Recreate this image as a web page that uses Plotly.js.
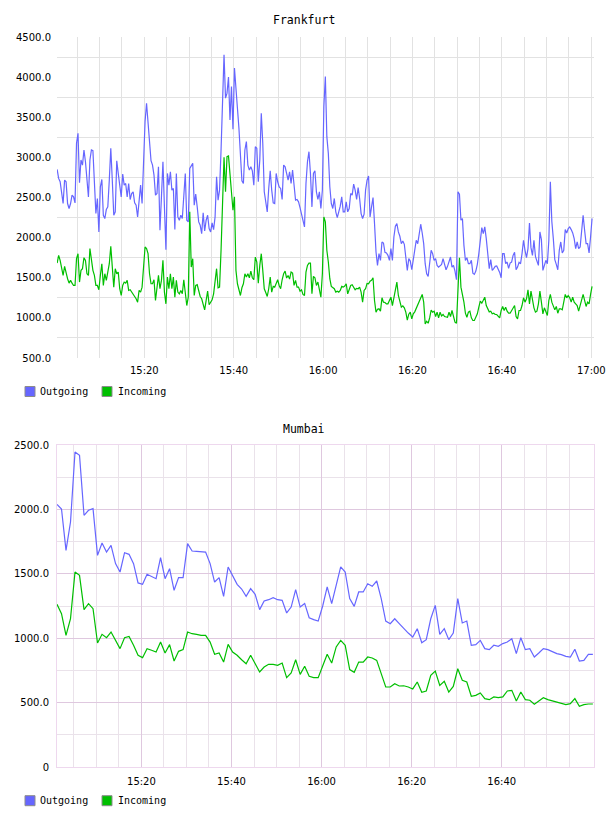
<!DOCTYPE html>
<html>
<head>
<meta charset="utf-8">
<script src="https://cdn.plot.ly/plotly-3.0.1.min.js"></script>
<style>html,body{margin:0;padding:0;background:#fff;}#chart{width:608px;height:816px;}</style>
</head>
<body>
<div id="chart"></div>
<script>
// ---------- data ----------
const seriesNames = ['Outgoing', 'Incoming'];
const seriesColors = ['#6666ff', '#00bf00'];
const baseDate = '2013-01-01 ';

// Frankfurt: samples every 20 s starting 15:00:30
const frankfurtStart = '15:00:30';
const frankfurtStepSec = 20;
const frankfurtOutgoing = [
 2850,2738,2696,2550,2425,2717,2696,2425,2363,2425,
 2529,2508,2433,3175,3300,2683,2967,2904,3092,2946,
 2717,2508,2967,3092,3083,2633,2300,2488,2071,2633,
 2725,2279,2238,2350,2383,2717,3113,2717,2279,2321,
 2958,2800,2633,2508,2792,2654,2675,2508,2675,2475,
 2550,2571,2433,2404,2258,2467,2654,2425,3008,3446,
 3675,3425,3092,2958,2904,2779,2529,2550,2883,2092,
 2508,2946,2383,1850,2800,2654,2821,2592,2613,2100,
 2800,2258,2217,2279,2238,2508,2800,2217,2196,2863,
 2904,2925,2404,2542,2383,2196,2154,2050,2308,2083,
 2217,2279,2113,2071,2183,2100,2258,2758,2467,2592,
 3092,3800,4279,3738,3800,4000,3467,3883,3350,4113,
 3904,3613,3363,3071,2708,2675,3092,3196,2904,2842,
 2883,2833,2654,3133,3113,2696,2967,3550,3175,2571,
 2467,2321,2613,2833,2592,2433,2425,2800,2696,2633,
 2613,2475,2904,2883,2800,2717,2821,2675,2842,2675,
 2467,2475,2446,2375,2300,2196,2133,2675,2946,3071,
 2800,2383,2800,2833,2571,2475,2571,2363,2592,3633,
 4008,3258,3050,2633,2425,2363,2488,2321,2250,2321,
 2392,2508,2321,2321,2446,2321,2363,2550,2529,2667,
 2592,2475,2625,2488,2300,2238,2292,2592,2717,2767,
 2258,2383,2500,2175,1821,1654,1800,1717,1946,1933,
 1817,1808,1779,1717,1863,1717,2008,2142,2175,2071,
 2017,1925,1958,1917,1738,1592,1738,1708,1600,1717,
 1883,1967,1925,2050,2167,2058,1925,1675,1550,1517,
 1696,1842,1800,1717,1738,1654,1633,1654,1667,1738,
 1675,1600,1642,1717,1758,1633,1654,1583,1475,2571,
 2542,2217,2238,1904,1717,1750,1675,1675,1717,1558,
 1542,1583,1667,1800,1988,2125,2050,2133,1988,1800,
 1613,1725,1592,1613,1642,1646,1608,1567,1500,1800,
 1800,1675,1696,1617,1683,1696,1779,1817,1600,1633,
 1692,1675,1800,1967,1842,1750,1863,2183,1875,1779,
 1967,1767,1708,1654,2071,1975,1592,1654,1717,1675,
 1967,2696,2200,1988,1725,1667,1600,1842,1946,1808,
 1842,2100,2058,2113,2133,2100,2058,1988,1863,1946,
 1863,1883,2071,2279,2092,1925,1925,1808,2008,2238
];
const frankfurtIncoming = [
 1683,1779,1717,1592,1529,1642,1550,1488,1433,1467,
 1433,1404,1404,1738,1800,1446,1592,1613,1750,1717,
 1550,1529,1863,1696,1592,1529,1404,1404,1350,1529,
 1675,1404,1550,1467,1550,1675,1892,1592,1383,1613,
 1550,1571,1363,1279,1404,1446,1433,1467,1342,1350,
 1321,1300,1267,1238,1196,1342,1321,1383,1633,1883,
 1863,1800,1550,1425,1425,1475,1217,1383,1529,1363,
 1467,1717,1321,1175,1508,1363,1550,1363,1508,1258,
 1467,1321,1300,1342,1300,1475,1342,1154,1258,2321,
 1633,1738,1279,1404,1413,1350,1267,1238,1167,1100,
 1217,1333,1163,1204,1225,1300,1446,1613,1375,1383,
 1842,2592,3000,2571,3008,3017,2800,2592,2342,2508,
 1592,1425,1350,1279,1375,1425,1550,1508,1550,1500,
 1583,1500,1475,1758,1696,1433,1654,1800,1592,1363,
 1317,1267,1363,1508,1321,1392,1383,1425,1475,1404,
 1363,1475,1550,1583,1496,1529,1483,1571,1558,1404,
 1467,1383,1383,1333,1350,1292,1279,1571,1654,1683,
 1683,1300,1517,1500,1404,1446,1321,1258,1550,2258,
 2196,1842,1696,1488,1392,1375,1363,1321,1333,1321,
 1342,1392,1383,1396,1425,1300,1363,1404,1413,1375,
 1350,1367,1363,1383,1321,1196,1342,1363,1429,1425,
 1458,1467,1500,1217,1071,1108,1113,1083,1250,1196,
 1192,1175,1175,1217,1258,1154,1258,1333,1446,1279,
 1196,1133,1150,1125,1071,971,1046,1071,988,1050,
 1075,1121,1163,1192,1238,1292,1196,925,958,933,
 1000,1096,1071,1083,1017,1071,1000,1071,1025,1042,
 1017,1017,1008,1071,1017,1092,1008,946,933,1383,
 1750,1383,1308,1196,1058,1008,1071,1083,1000,967,
 967,1000,1050,1133,1208,1183,1217,1258,1154,1113,
 1075,1083,1050,1058,1042,1042,1025,1000,1092,1142,
 1092,1133,1083,1058,1058,1092,1113,1154,1017,988,
 1092,1092,1154,1250,1196,1238,1350,1175,1333,1208,
 1125,1071,1083,1175,1333,1196,1050,1125,1071,1029,
 1217,1292,1196,1154,1100,1142,1058,1113,1113,1100,
 1217,1292,1250,1279,1250,1196,1258,1196,1175,1154,
 1083,1167,1238,1292,1217,1142,1196,1175,1292,1392
];

// Mumbai: samples every 60 s starting 15:01:15
const mumbaiStart = '15:01:15';
const mumbaiStepSec = 60;
const mumbaiOutgoing = [
 2039,2003,1682,1902,2446,2420,1954,1993,2006,1643,
 1739,1669,1721,1579,1514,1664,1651,1579,1429,1418,
 1496,1480,1462,1625,1462,1540,1372,1470,1470,1734,
 1677,1674,1669,1669,1579,1436,1470,1325,1553,1483,
 1418,1382,1325,1385,1341,1222,1289,1299,1315,1299,
 1294,1196,1242,1377,1242,1270,1159,1144,1133,1250,
 1398,1268,1410,1553,1514,1307,1247,1359,1359,1423,
 1403,1444,1307,1133,1113,1151,1113,1074,1040,1009,
 1074,965,989,1151,1255,1030,1074,989,1040,1307,
 1118,1133,945,950,983,919,911,945,937,958,
 970,996,880,1004,911,919,854,885,919,911,
 893,880,872,859,854,914,823,828,875,875
];
const mumbaiIncoming = [
 1263,1190,1022,1152,1514,1488,1222,1268,1229,963,
 1030,1004,1048,978,919,1004,1014,945,867,849,
 919,906,893,970,885,950,823,898,911,1048,
 1035,1030,1022,1022,970,875,885,815,952,893,
 867,833,802,867,807,738,776,797,797,789,
 807,694,730,833,719,782,704,694,694,782,
 875,807,932,983,945,756,735,815,815,854,
 846,828,725,621,621,647,629,631,621,606,
 660,580,590,712,745,634,665,582,626,763,
 673,660,549,556,575,531,523,544,538,544,
 590,595,512,582,523,518,487,512,538,523,
 512,500,492,484,492,531,471,484,489,489
];

// axis ticks
const frankfurtTimeTicks = ['15:20','15:40','16:00','16:20','16:40','17:00'];
const mumbaiTimeTicks = ['15:20','15:40','16:00','16:20','16:40'];
const frankfurtValueTicks = [500,1000,1500,2000,2500,3000,3500,4000,4500];
const mumbaiValueTicks = [0,500,1000,1500,2000,2500];
const mumbaiValueLabels = ['0','500.0','1000.0','1500.0','2000.0','2500.0'];

// ---------- helpers ----------
function toSec(hms){ const p = hms.split(':').map(Number); return p[0]*3600 + p[1]*60 + (p[2]||0); }
function pad(n){ return (n<10?'0':'') + n; }
function fmt(sec){ return baseDate + pad(Math.floor(sec/3600)) + ':' + pad(Math.floor(sec%3600/60)) + ':' + pad(sec%60); }
function times(start, step, n){ const s0 = toSec(start); const out=[]; for(let i=0;i<n;i++) out.push(fmt(s0 + i*step)); return out; }
function gridTimes(start, end, step){ const out=[]; for(let s=toSec(start); s<=toSec(end); s+=step) out.push(fmt(s)); return out; }

const fT = times(frankfurtStart, frankfurtStepSec, frankfurtOutgoing.length);
const mT = times(mumbaiStart, mumbaiStepSec, mumbaiOutgoing.length);

const lineW = 1.2;
const traces = [
 {x:fT, y:frankfurtOutgoing, xaxis:'x', yaxis:'y', name:seriesNames[0], mode:'lines', line:{color:seriesColors[0], width:lineW}},
 {x:fT, y:frankfurtIncoming, xaxis:'x', yaxis:'y', name:seriesNames[1], mode:'lines', line:{color:seriesColors[1], width:lineW}},
 {x:mT, y:mumbaiOutgoing, xaxis:'x2', yaxis:'y2', name:seriesNames[0], mode:'lines', line:{color:seriesColors[0], width:lineW}},
 {x:mT, y:mumbaiIncoming, xaxis:'x2', yaxis:'y2', name:seriesNames[1], mode:'lines', line:{color:seriesColors[1], width:lineW}}
];

const tickFont = {family:'DejaVu Sans', size:10, color:'#000'};
const monoFont = {family:'DejaVu Sans Mono', size:10, color:'#000'};
const fGrid = '#e2e2e2';
const mMajor = '#dfc8df';
const mMinor = '#eae2ea';
const mFrame = '#eed8ee';
const fiveMin = 300000;

// plot geometry in px
const W = 608, H = 816, L = 57, R = 14, T = 37, B = 49;
const PW = W - L - R, PH = H - T - B;
const px = x => (x - L) / PW;
const py = y => (H - B - y) / PH;

const layout = {
 width:W, height:H,
 margin:{l:L, r:R, t:T, b:B, pad:0},
 paper_bgcolor:'#ffffff', plot_bgcolor:'#ffffff',
 showlegend:false,
 hovermode:false,
 xaxis:{
  type:'date', anchor:'y', domain:[0,1],
  range:[baseDate+'15:00:28', baseDate+'17:00:36'],
  tickmode:'array', tickvals:frankfurtTimeTicks.map(t=>baseDate+t+':00'), ticktext:frankfurtTimeTicks,
  showgrid:true, gridcolor:fGrid, gridwidth:1,
  minor:{tickmode:'linear', tick0:baseDate+'15:00:00', dtick:fiveMin, showgrid:true, gridcolor:fGrid, gridwidth:1},
  zeroline:false, showline:false, ticks:'', tickfont:tickFont, ticklabelstandoff:5
 },
 yaxis:{
  anchor:'x', domain:[py(358), 1],
  range:[500,4500],
  tickmode:'array', tickvals:frankfurtValueTicks, tickformat:'.1f',
  showgrid:false,
  minor:{tickmode:'linear', tick0:750, dtick:500, showgrid:true, gridcolor:fGrid, gridwidth:1},
  zeroline:false, showline:false, ticks:'', tickfont:tickFont, ticklabelstandoff:5
 },
 xaxis2:{
  type:'date', anchor:'y2', domain:[0,1],
  range:[baseDate+'15:01:15', baseDate+'17:00:30'],
  tickmode:'array', tickvals:mumbaiTimeTicks.map(t=>baseDate+t+':00'), ticktext:mumbaiTimeTicks,
  showgrid:true, gridcolor:mMajor, gridwidth:1,
  minor:{tickmode:'array', tickvals:gridTimes('15:05:00','16:55:00',300), showgrid:true, gridcolor:mMinor, gridwidth:1},
  zeroline:false, showline:true, mirror:true, linecolor:mFrame, linewidth:1,
  ticks:'', tickfont:tickFont, ticklabelstandoff:5
 },
 yaxis2:{
  anchor:'x2', domain:[0, py(445)],
  range:[0,2500],
  tickmode:'array', tickvals:mumbaiValueTicks, ticktext:mumbaiValueLabels,
  showgrid:true, gridcolor:mMajor, gridwidth:1,
  minor:{tickmode:'linear', tick0:250, dtick:500, showgrid:true, gridcolor:mMinor, gridwidth:1},
  zeroline:false, showline:true, mirror:true, linecolor:mFrame, linewidth:1,
  ticks:'', tickfont:tickFont, ticklabelstandoff:5
 },
 annotations:[],
 shapes:[]
};

// chart titles
const chartTitles = [{text:'Frankfurt', y:20}, {text:'Mumbai', y:429}];
chartTitles.forEach(t => layout.annotations.push({
 text:t.text, xref:'paper', yref:'paper', x:px(304), y:py(t.y), xanchor:'center', yanchor:'middle',
 showarrow:false, font:{family:'DejaVu Sans Mono', size:11.5, color:'#000'}
}));

// legends (one under each chart)
const legendRows = [391.5, 800.7];
const legendSquareX = [25, 102];
const legendTextX = [38, 116];
legendRows.forEach(yc => {
 seriesNames.forEach((name, k) => {
  layout.shapes.push({type:'rect', xref:'paper', yref:'paper',
   x0:px(legendSquareX[k]), x1:px(legendSquareX[k]+10), y0:py(yc+5), y1:py(yc-5),
   fillcolor:seriesColors[k], line:{color:'#8c8c8c', width:1}});
  layout.annotations.push({text:name, xref:'paper', yref:'paper', x:px(legendTextX[k]), y:py(yc),
   xanchor:'left', yanchor:'middle', showarrow:false, font:monoFont});
 });
});

Plotly.newPlot('chart', traces, layout, {displayModeBar:false, staticPlot:true});
</script>
</body>
</html>
